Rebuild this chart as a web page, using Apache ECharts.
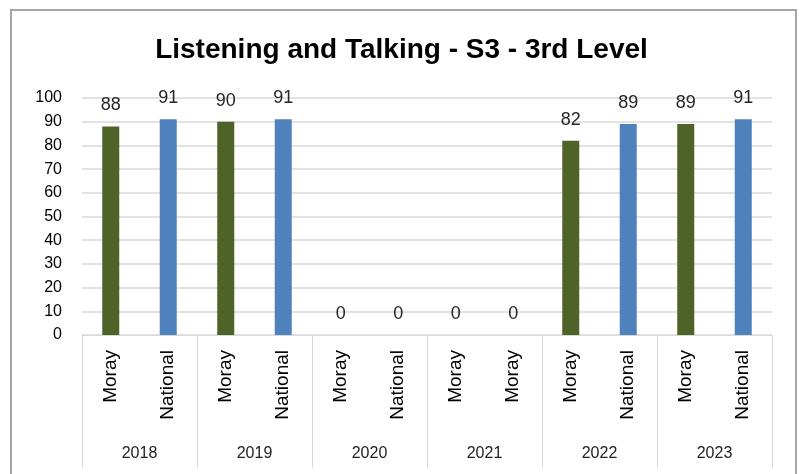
<!DOCTYPE html>
<html>
<head>
<meta charset="utf-8">
<script src="https://cdn.jsdelivr.net/npm/echarts@6/dist/echarts.min.js"></script>
<style>
  html, body { margin: 0; padding: 0; background: #fff; }
  #chart { width: 803px; height: 474px; }
</style>
</head>
<body>
<div id="chart"></div>
<script>
  // data
  var labels = ['Moray', 'National', 'Moray', 'National', 'Moray', 'National',
                'Moray', 'Moray', 'Moray', 'National', 'Moray', 'National'];
  var years = ['2018', '2019', '2020', '2021', '2022', '2023'];
  var values = [88, 91, 90, 91, 0, 0, 0, 0, 82, 89, 89, 91];

  var green = '#4F6228';
  var blue = '#4F81BD';
  var gridColor = '#d9d9d9';

  var chart = echarts.init(document.getElementById('chart'));
  var option = {
    backgroundColor: '#fff',
    animation: false,
    title: {
      text: 'Listening and Talking - S3 - 3rd Level',
      left: 'center',
      top: 31,
      textStyle: {
        fontFamily: 'Liberation Sans',
        fontWeight: 'bold',
        fontSize: 28,
        color: '#000'
      }
    },
    graphic: [{
      type: 'rect',
      shape: { x: 11, y: 10, width: 785, height: 480 },
      style: { fill: 'none', stroke: '#a6a6a6', lineWidth: 2 },
      silent: true
    }],
    grid: { left: 82, right: 31, top: 98, bottom: 139 },
    xAxis: [
      {
        type: 'category',
        data: labels,
        axisLine: { lineStyle: { color: gridColor } },
        axisTick: { show: false },
        axisLabel: {
          interval: 0,
          rotate: 90,
          margin: 15,
          fontFamily: 'Liberation Sans',
          fontSize: 19,
          color: '#000'
        }
      },
      {
        type: 'category',
        data: years,
        position: 'bottom',
        axisLine: { show: false },
        axisTick: { show: true, length: 133, lineStyle: { color: gridColor } },
        axisLabel: {
          interval: 0,
          margin: 111,
          fontFamily: 'Liberation Sans',
          fontSize: 16,
          color: '#222'
        }
      }
    ],
    yAxis: {
      type: 'value',
      min: 0,
      max: 100,
      interval: 10,
      axisLine: { show: false },
      axisTick: { show: false },
      splitLine: { lineStyle: { color: gridColor, width: 1.5 } },
      axisLabel: {
        margin: 20,
        fontFamily: 'Liberation Sans',
        fontSize: 16,
        color: '#000'
      }
    },
    series: [{
      type: 'bar',
      xAxisIndex: 0,
      data: values,
      barWidth: 17,
      itemStyle: {
        color: function (p) { return p.dataIndex % 2 ? blue : green; }
      },
      label: {
        show: true,
        position: 'top',
        distance: 12,
        fontFamily: 'Liberation Sans',
        fontSize: 18,
        color: '#262626'
      }
    }]
  };
  chart.setOption(option);
</script>
</body>
</html>
